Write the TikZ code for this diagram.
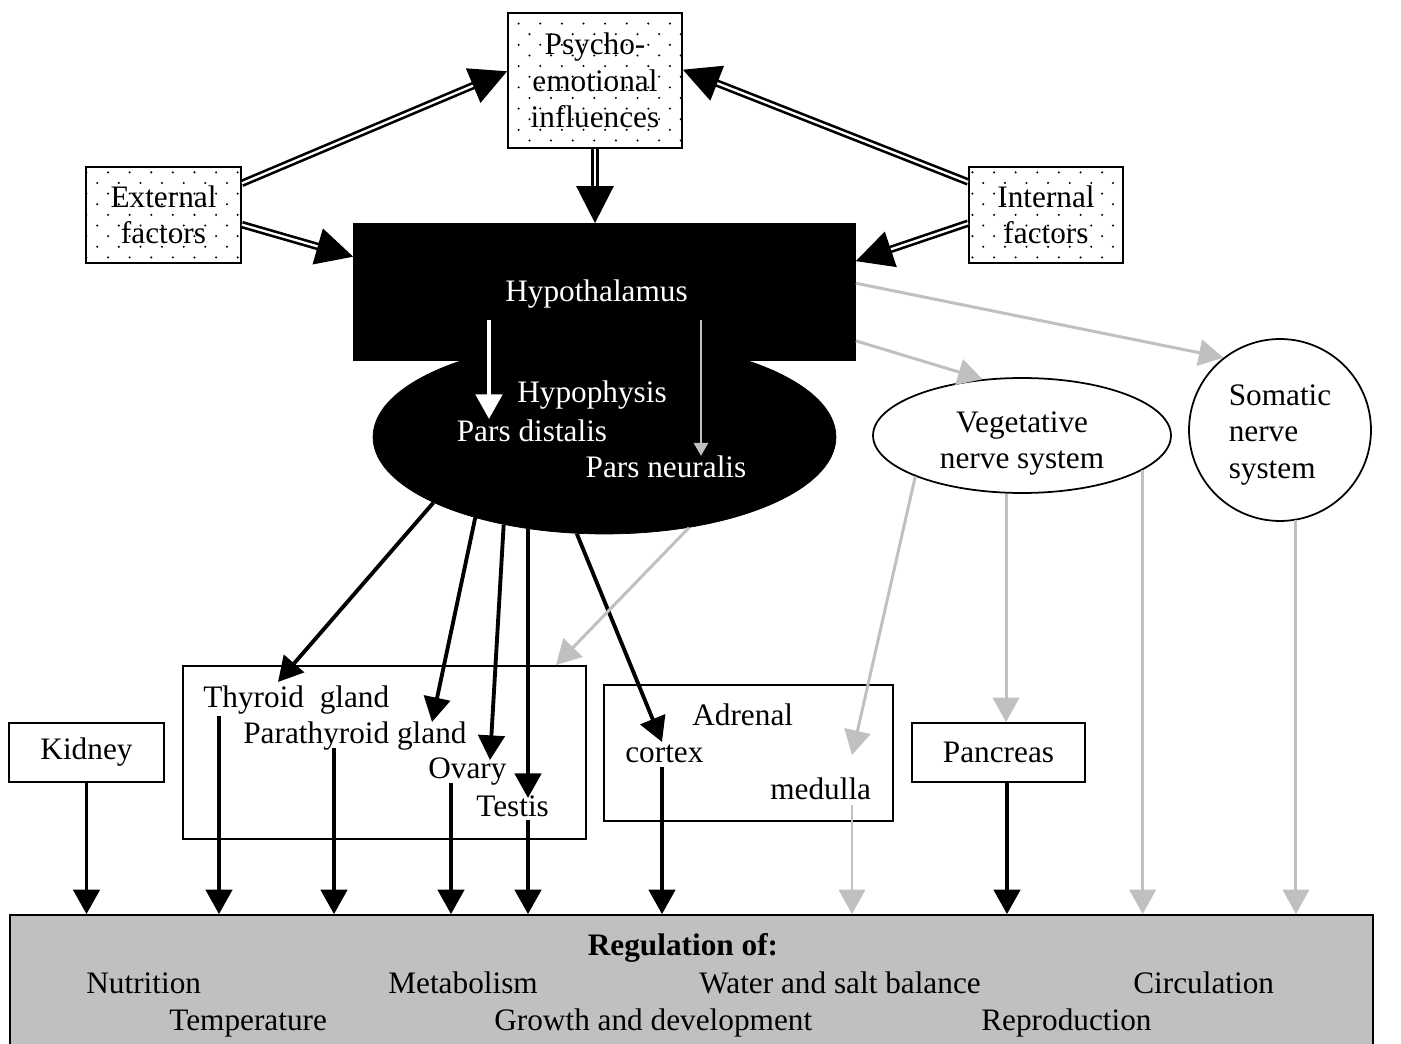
\documentclass[tikz,border=0pt]{standalone}
\usepackage{fontspec}
\setmainfont{Liberation Serif}
\usetikzlibrary{shapes.geometric,arrows.meta,patterns}

\definecolor{lightgrey}{RGB}{192,192,192}

% sparse dot raster of the three influence boxes
\pgfdeclarepatternformonly{sparsedots}{\pgfqpoint{-1pt}{-1pt}}{\pgfqpoint{13.3pt}{13.1pt}}{\pgfqpoint{12.3pt}{12.1pt}}{%
  \pgfpathcircle{\pgfqpoint{0pt}{0pt}}{0.65pt}%
  \pgfpathcircle{\pgfqpoint{6.15pt}{6.05pt}}{0.65pt}%
  \pgfusepath{fill}}

\begin{document}
\begin{tikzpicture}[x=0.02cm, y=-0.02cm,
  every node/.style={font=\fontsize{17.8pt}{20.8pt}\selectfont},
  box/.style={draw, line width=1pt, inner sep=0pt, align=center},
  dotbox/.style={box, pattern=sparsedots},
  txt/.style={inner sep=0pt, anchor=base west},
  ctxt/.style={inner sep=0pt, anchor=base},
  blk/.style={line width=2.2pt, -{Triangle[length=14pt,width=15pt]}},
  gry/.style={line width=1.7pt, color=lightgrey, -{Triangle[length=14pt,width=15pt]}},
  dbl/.style={double, double distance=1.3pt, line width=1.5pt, -{Triangle[length=21pt,width=21pt]}}]

            \useasboundingbox (0,0) rectangle (1401,1044);

            % shapes
            \node[draw, ellipse, fill=black, inner sep=0pt, minimum width=9.26cm, minimum height=3.88cm] (hyp) at (604.5,437) {};
            \node[box, fill=black, minimum width=10.02cm, minimum height=2.72cm] (hth) at (604.5,292) {};
            \node[dotbox, minimum width=3.48cm, minimum height=2.7cm] (psy) at (595,80.5) {Psycho-\\emotional\\influences};
            \node[dotbox, minimum width=3.1cm, minimum height=1.92cm] (ext) at (163.5,215) {External\\factors};
            \node[dotbox, minimum width=3.08cm, minimum height=1.92cm] (int) at (1046,215) {Internal\\factors};
            \node[box, ellipse, minimum width=5.96cm, minimum height=2.3cm] (veg) at (1022,435.5) {};
            \node[box, circle, minimum size=3.64cm] (som) at (1280,430) {};
            \node[box, minimum width=8.06cm, minimum height=3.46cm] (thb) at (384.5,752.5) {};
            \node[box, minimum width=5.78cm, minimum height=2.72cm] (adb) at (748.5,753) {};
            \node[box, minimum width=3.1cm, minimum height=1.18cm] (kid) at (86.5,752.5) {Kidney};
            \node[box, minimum width=3.46cm, minimum height=1.18cm] (pan) at (998.5,752.5) {Pancreas};
            \node[box, fill=lightgrey, minimum width=27.26cm, minimum height=2.7cm] (reg) at (691.5,982.5) {};

            % labels
            \node[ctxt, text=white] (htx) at (596.5,302) {Hypothalamus}; \node[ctxt, text=white] (hpx) at (592,403) {Hypophysis};
            \node[ctxt, text=white] (dis) at (532,441) {Pars distalis}; \node[ctxt, text=white] (neu) at (666,478) {Pars neuralis};
            \node[align=center, inner sep=0pt] (vegt) at (1022,443.5) {Vegetative\\nerve system};
            \node[align=left, inner sep=0pt] (somt) at (1280,435) {Somatic\\nerve\\system};
            \node[txt] (thy) at (203,707) {Thyroid\ \ gland}; \node[txt] (par) at (243,743) {Parathyroid gland};
            \node[txt] (ova) at (428,778) {Ovary}; \node[txt] (tes) at (476,816) {Testis};
            \node[txt] (adr) at (692,725) {Adrenal}; \node[txt] (cor) at (625,762) {cortex}; \node[txt] (med) at (770,799) {medulla};
            \node[ctxt] (regt) at (683,955) {\bfseries Regulation of:};
            \node[txt] (nut) at (86,993) {Nutrition}; \node[txt] (met) at (388,993) {Metabolism};
            \node[txt] (wat) at (699,993) {Water and salt balance}; \node[txt] (cir) at (1133,993) {Circulation};
            \node[txt] (tem) at (169,1030) {Temperature}; \node[txt] (gro) at (494,1030) {Growth and development};
            \node[txt] (rep) at (981,1030) {Reproduction};

            % arrow ends
            \coordinate (tthy) at (278,682); \coordinate (tpar) at (432,722); \coordinate (tova) at (490,760);
            \coordinate (ttes) at (528,798); \coordinate (tcor) at (662,742); \coordinate (tmed) at (852,755);
            \coordinate (wtop) at (489,320); \coordinate (gtop) at (701,320); \coordinate (vpan) at (1006,600);
            \coordinate (othy) at (219,716); \coordinate (opar) at (334,748); \coordinate (oova) at (451,783);
            \coordinate (otes) at (528,820); \coordinate (ocor) at (662,767); \coordinate (opan) at (1007,782);
            \coordinate (omed) at (852,805);

            % influences
            \draw[dbl] (ext.22) -- (psy.174);
            \draw[dbl] (ext.-7) -- (hth.172);
            \draw[dbl] (int.157) -- (psy.7);
            \draw[dbl] (int.186) -- (hth.7);
            \draw[dbl] (psy.south) -- (psy.south |- hth.north);

            \draw[line width=2.2pt, white, -{Triangle[length=14pt,width=15pt]}] (wtop) -- (wtop |- dis.north);
            \draw[line width=1.7pt, lightgrey, -{Triangle[length=7.5pt,width=8pt]}] (gtop) -- (gtop |- neu.north);

            % hypophysis to glands
            \draw[blk] (hyp.201) -- (tthy);
            \draw[blk] (hyp.212) -- (tpar);
            \draw[blk] (hyp.221) -- (tova);
            \draw[blk] (ttes |- hyp.230) -- (ttes);
            \draw[blk] (hyp.254) -- (tcor);

            % nerve paths
            \draw[gry] (hyp.-47) -- (thb.27);
            \draw[gry] (hth.2) -- (som.128);
            \draw[gry] (hth.-11) -- (veg.125);
            \draw[gry] (veg.201) -- (tmed);
            \draw[gry] (vpan |- veg.south) -- (vpan |- pan.north);
            \draw[gry] (veg.-16) -- (veg.-16 |- reg.north);
            \draw[gry] (som.-80) -- (som.-80 |- reg.north);
            \draw[gry] (omed) -- (omed |- reg.north);

            \foreach \c in {kid.south,othy,opar,oova,otes,ocor,opan}
                \draw[blk] (\c) -- (\c |- reg.north);
        \end{tikzpicture}
\end{document}
